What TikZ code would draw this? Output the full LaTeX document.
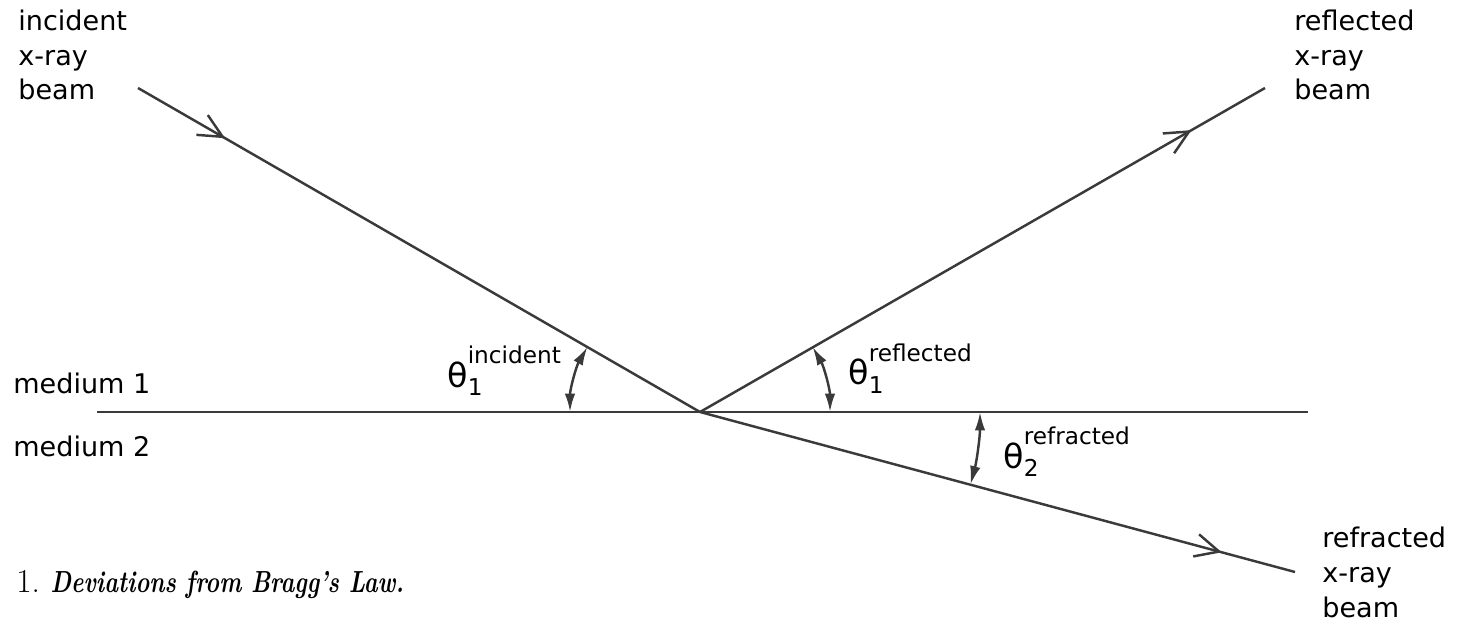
\documentclass[tikz,border=0pt]{standalone}
\usepackage{fontspec}
\setsansfont{DejaVu Sans}
\usetikzlibrary{arrows.meta,decorations.markings}
\definecolor{ln}{HTML}{3A3A3C}
\newcommand\thlbl[2]{{\fontsize{19}{20}\selectfont θ}\rlap{\raisebox{-5pt}{#1}}\raisebox{13.5pt}{#2}}
\begin{document}
\begin{tikzpicture}[x=0.02cm,y=0.02cm,
  beam/.style={draw=ln, line width=1.4pt},
  midarrow/.style={postaction={decorate}, decoration={markings,
     mark=at position #1 with {\arrow[line width=1.4pt]{Straight Barb[length=13.5pt,width=13pt]}}}},
  angarrow/.style={draw=ln, line width=1.4pt, {Latex[length=10.5pt,width=6pt]}-{Latex[length=10.5pt,width=6pt]}},
  lbl/.style={font=\sffamily\fontsize{15.4}{19.8}\selectfont, align=left, anchor=base west, inner sep=0pt},
  anglbl/.style={font=\sffamily\fontsize{13.2}{14}\selectfont, anchor=base west, inner sep=0pt}]
\useasboundingbox (0,0) rectangle (1462,622);
% geometry
\coordinate (O) at (700,210);
\coordinate (L) at (97,210);
\coordinate (R) at (1308,210);
\coordinate (A) at (138,534);
\coordinate (B) at (1265,534);
\coordinate (C) at (1295,50);
% interface
\draw[beam] (L) -- (R);
% beams
\draw[beam, midarrow=0.155] (A) -- (O);
\draw[beam, midarrow=0.87] (O) -- (B);
\draw[beam, midarrow=0.877] (O) -- (C);
% angle arcs
\draw[angarrow] ([shift={(180:130)}]O) arc[start angle=180, end angle=150, radius=130];
\draw[angarrow] ([shift={(0:130)}]O) arc[start angle=0, end angle=30, radius=130];
\draw[angarrow] ([shift={(0:280)}]O) arc[start angle=0, end angle=-15, radius=280];
% angle labels
\node[anglbl] (tinc) at (447,235) {\thlbl{1}{incident}};
\node[anglbl] (trefl) at (848,237) {\thlbl{1}{reflected}};
\node[anglbl] (trefr) at (1003,154) {\thlbl{2}{refracted}};
% beam labels (anchor = baseline of last line)
\node[lbl] (linc) at (18,522) {incident\\x-ray\\beam};
\node[lbl] (lrefl) at (1294,522) {reflected\\x-ray\\beam};
\node[lbl] (lrefr) at (1322,5) {refracted\\x-ray\\beam};
\node[lbl] (m1) at (13,228) {medium 1};
\node[lbl] (m2) at (13,166) {medium 2};
% caption fragment
\node[anchor=base west, inner sep=0pt, font=\rmfamily\fontsize{19}{21}\selectfont] (head) at (16,30)
  {1.\hspace{6pt}\scalebox{0.86}[1.12]{\fontsize{15.5}{18}\selectfont\textbf{\itshape Deviations from Bragg's Law.}}};
\end{tikzpicture}
\end{document}
